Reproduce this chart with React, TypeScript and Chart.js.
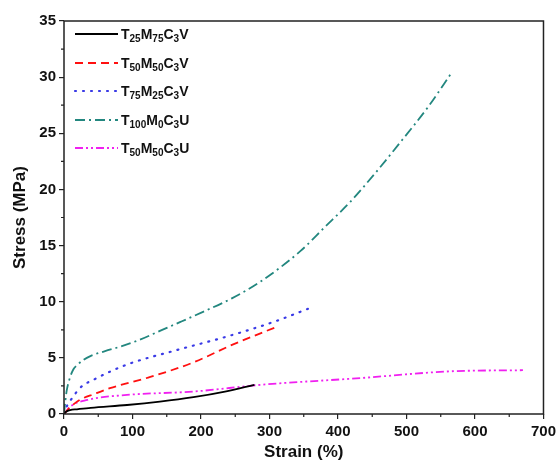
import React, { useEffect, useRef } from "react";
import { Chart, registerables } from "chart.js";
Chart.register(...registerables);

const FONT = "'Liberation Sans', Arial, sans-serif";

const seriesNames = ["T25M75C3V", "T50M50C3V", "T75M25C3V", "T100M0C3U", "T50M50C3U"];
const legendParts: [string, boolean][][] = [
  [["T", false], ["25", true], ["M", false], ["75", true], ["C", false], ["3", true], ["V", false]],
  [["T", false], ["50", true], ["M", false], ["50", true], ["C", false], ["3", true], ["V", false]],
  [["T", false], ["75", true], ["M", false], ["25", true], ["C", false], ["3", true], ["V", false]],
  [["T", false], ["100", true], ["M", false], ["0", true], ["C", false], ["3", true], ["U", false]],
  [["T", false], ["50", true], ["M", false], ["50", true], ["C", false], ["3", true], ["U", false]],
];

const strainBlack = [0, 3, 9, 19, 39, 92, 140, 189, 235, 278];
const stressBlack = [0, 0.2, 0.35, 0.42, 0.55, 0.8, 1.1, 1.5, 2.0, 2.6];

const strainRed = [0, 9, 23, 45, 67, 126, 189, 247, 308];
const stressRed = [0, 0.6, 1.25, 1.8, 2.3, 3.3, 4.6, 6.2, 7.7];

const strainBlue = [0, 5, 13, 23, 48, 92, 165, 238, 306, 364];
const stressBlue = [0, 0.8, 1.5, 2.3, 3.2, 4.4, 5.7, 6.9, 8.2, 9.55];

const strainTeal = [0, 2, 4, 8, 13, 20, 28, 40, 60, 82, 110, 140, 170, 203, 245, 287, 345, 380, 418, 455, 491, 531, 567];
const stressTeal = [0, 1.2, 2.1, 3.1, 3.9, 4.4, 4.8, 5.2, 5.6, 6.0, 6.6, 7.4, 8.2, 9.1, 10.3, 11.8, 14.5, 16.6, 18.9, 21.5, 24.2, 27.3, 30.5];

const strainMagenta = [0, 10, 34, 92, 189, 287, 433, 564, 670];
const stressMagenta = [0, 0.7, 1.25, 1.7, 2.0, 2.6, 3.2, 3.8, 3.9];

const colors = ["#000000", "#ff1010", "#3a3ae6", "#23877f", "#f020f0"];
const dashes = [[], [8, 5], [1, 7], [10, 4, 2, 4], [8, 3, 2, 3, 2, 3]];

const xTicks = [0, 100, 200, 300, 400, 500, 600, 700];
const yTicks = [0, 5, 10, 15, 20, 25, 30, 35];

function pts(xs: number[], ys: number[]) {
  return xs.map((x, i) => ({ x, y: ys[i] }));
}

const framePlugin = {
  id: "frame",
  afterDraw(chart: any) {
    const { ctx, chartArea: a, scales } = chart;
    ctx.save();
    ctx.strokeStyle = "#222";
    ctx.lineWidth = 1.5;
    ctx.setLineDash([]);
    ctx.strokeRect(a.left, a.top, a.right - a.left, a.bottom - a.top);
    ctx.lineWidth = 1.2;
    ctx.beginPath();
    for (let v = 50; v < 700; v += 100) {
      const x = scales.x.getPixelForValue(v);
      ctx.moveTo(x, a.bottom);
      ctx.lineTo(x, a.bottom + 3);
    }
    for (let v = 2.5; v < 35; v += 5) {
      const y = scales.y.getPixelForValue(v);
      ctx.moveTo(a.left, y);
      ctx.lineTo(a.left - 3, y);
    }
    ctx.stroke();
    const rows = [34, 63, 91, 120, 148];
    rows.forEach((ry, i) => {
      ctx.strokeStyle = colors[i];
      ctx.lineWidth = i === 2 ? 2.2 : 1.8;
      ctx.lineCap = i === 2 ? "round" : "butt";
      ctx.setLineDash(dashes[i]);
      ctx.beginPath();
      ctx.moveTo(75, ry);
      ctx.lineTo(118, ry);
      ctx.stroke();
      ctx.setLineDash([]);
      let x = 121;
      ctx.fillStyle = "#111";
      ctx.textBaseline = "alphabetic";
      for (const [t, sub] of legendParts[i]) {
        ctx.font = sub ? `bold 10px ${FONT}` : `bold 14px ${FONT}`;
        ctx.fillText(t, x, sub ? ry + 8 : ry + 5);
        x += ctx.measureText(t).width;
      }
    });
    ctx.restore();
  },
};

export default function App() {
  const ref = useRef<HTMLCanvasElement>(null);
  useEffect(() => {
    document.body.style.margin = "0";
    const data = [
      pts(strainBlack, stressBlack),
      pts(strainRed, stressRed),
      pts(strainBlue, stressBlue),
      pts(strainTeal, stressTeal),
      pts(strainMagenta, stressMagenta),
    ];
    const chart = new Chart(ref.current!, {
      type: "line",
      data: {
        datasets: data.map((d, i) => ({
          label: seriesNames[i],
          data: d,
          borderColor: colors[i],
          borderWidth: i === 2 ? 2.2 : 1.8,
          borderDash: dashes[i],
          borderCapStyle: i === 2 ? "round" : "butt",
          pointRadius: 0,
          fill: false,
          cubicInterpolationMode: "monotone",
        })),
      },
      plugins: [framePlugin],
      options: {
        animation: false,
        responsive: false,
        layout: { padding: { top: 21, right: 16, left: 0, bottom: 0 } },
        plugins: { legend: { display: false }, tooltip: { enabled: false } },
        scales: {
          x: {
            type: "linear",
            min: 0,
            max: 700,
            afterBuildTicks: (s: any) => { s.ticks = xTicks.map((v) => ({ value: v })); },
            afterFit: (s: any) => { s.height = 47; },
            border: { display: false },
            grid: { drawOnChartArea: false, tickLength: 5, color: "#222", lineWidth: 1.2 },
            ticks: { color: "#111", font: { family: FONT, size: 15, weight: "bold" }, padding: 4, maxRotation: 0 },
            title: { display: true, text: "Strain (%)", color: "#111", font: { family: FONT, size: 17, weight: "bold" }, padding: { top: 0, bottom: -2 } },
          },
          y: {
            min: 0,
            max: 35,
            afterBuildTicks: (s: any) => { s.ticks = yTicks.map((v) => ({ value: v })); },
            afterFit: (s: any) => { s.width = 64; },
            border: { display: false },
            grid: { drawOnChartArea: false, tickLength: 5, color: "#222", lineWidth: 1.2 },
            ticks: { color: "#111", font: { family: FONT, size: 15, weight: "bold" }, padding: 3 },
            title: { display: true, text: "Stress (MPa)", color: "#111", font: { family: FONT, size: 17, weight: "bold" }, padding: { top: 10, bottom: 0 } },
          },
        },
      } as any,
    });
    return () => chart.destroy();
  }, []);
  return (
    <div style={{ width: 560, height: 461 }}>
      <canvas ref={ref} width={560} height={461} style={{ width: 560, height: 461, display: "block" }} />
    </div>
  );
}
